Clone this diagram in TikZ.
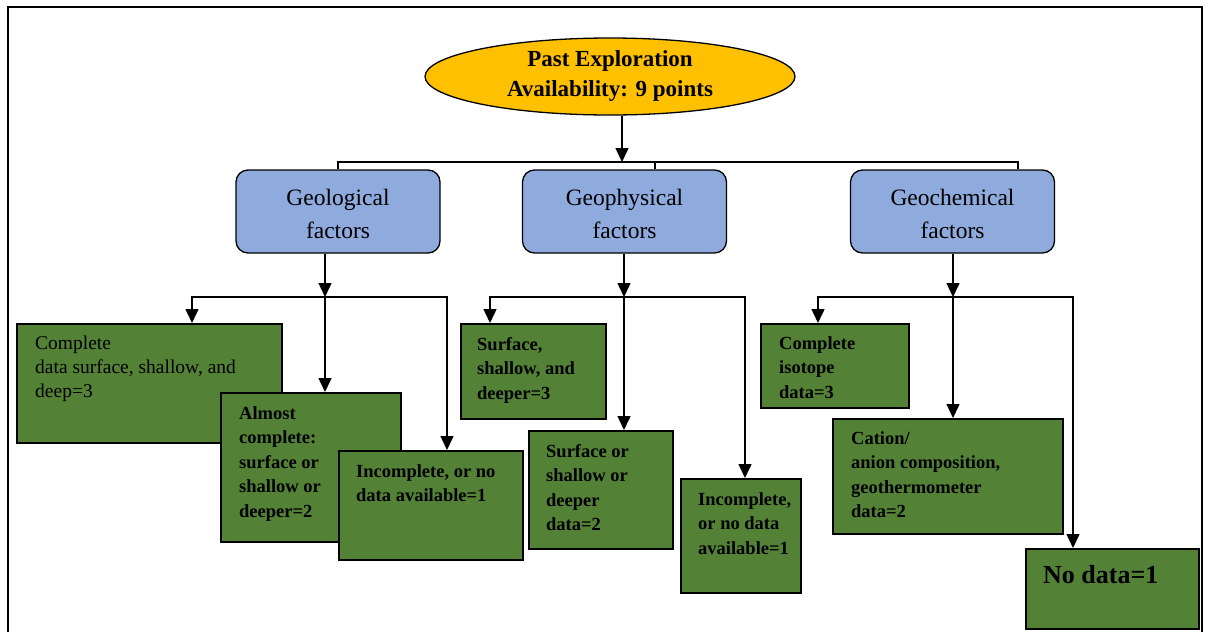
\documentclass[tikz,border=0pt]{standalone}
\usepackage{fontspec}
\setmainfont{Liberation Serif}
\usetikzlibrary{arrows.meta,shapes.geometric,calc}
\definecolor{gfill}{HTML}{538135}
\definecolor{bfill}{HTML}{8FAADC}
\definecolor{yfill}{HTML}{FFC000}
\newcommand{\topstrut}{\rule{0pt}{22pt}}
\begin{document}
\begin{tikzpicture}[x=1pt,y=-1pt,
  frameline/.style={line width=2pt},
  busline/.style={line width=1.5pt},
  conn/.style={line width=1.5pt,-{Triangle[length=14pt,width=13pt]}},
  topell/.style={ellipse,draw,line width=1.3pt,fill=yfill,inner sep=0pt,
    minimum width=370,minimum height=77,align=center,
    font=\bfseries\fontsize{23}{30}\selectfont},
  bbox/.style={draw,line width=1.3pt,fill=bfill,rounded corners=12pt,
    minimum width=204,minimum height=83,align=center,inner sep=0pt,
    font=\fontsize{23.5}{33}\selectfont},
  gbox/.style={draw,line width=1.5pt,fill=gfill,anchor=north west,inner sep=0pt},
  gtext/.style={anchor=north west,align=left,inner sep=0pt,
    font=\bfseries\fontsize{18.5}{24.5}\selectfont},
  gtextr/.style={gtext,font=\fontsize{19.5}{24}\selectfont}
]
\useasboundingbox (0,0) rectangle (1208,632);
% frame
\draw[frameline] (8,632) -- (8,7) -- (1202,7) -- (1202,632);

% top
\node[topell] (top) at (610,76.5) {Past Exploration\\Availability: 9 points};

% blue boxes
\node[bbox] (geo) at (338,211.5) {\topstrut Geological\\factors};
\node[bbox] (phy) at (624.5,211.5) {\topstrut Geophysical\\factors};
\node[bbox] (chem) at (952.5,211.5) {\topstrut Geochemical\\factors};

% first bus
\coordinate (b1) at (622,162);
\coordinate (b2) at (655,162);
\coordinate (b3) at (1018,162);
\draw[conn] (top.south -| b1) -- (b1);
\draw[busline] (geo.north) |- (b3) -- (chem.north -| b3);
\draw[busline] (b2) -- (phy.north -| b2);

% green boxes: geological
\node[gbox,minimum width=265,minimum height=119] (g1) at (16,323) {};
\node[gtextr] (g1t) at ($(g1.north west)+(19,13)$) {Complete\\data surface, shallow, and\\deep=3};
\node[gbox,minimum width=180,minimum height=149] (g2) at (220,392) {};
\node[gtext] (g2t) at ($(g2.north west)+(19,14)$) {Almost\\complete:\\surface or\\shallow or\\deeper=2};
\node[gbox,minimum width=184,minimum height=109] (g3) at (338,450) {};
\node[gtext] (g3t) at ($(g3.north west)+(18,14)$) {Incomplete, or no\\data available=1};

% geophysical
\node[gbox,minimum width=145,minimum height=95] (h1) at (460,323) {};
\node[gtext] (h1t) at ($(h1.north west)+(17,14)$) {Surface,\\shallow, and\\deeper=3};
\node[gbox,minimum width=144,minimum height=118] (h2) at (528,430) {};
\node[gtext] (h2t) at ($(h2.north west)+(18,14)$) {Surface or\\shallow or\\deeper\\data=2};
\node[gbox,minimum width=120,minimum height=114] (h3) at (680,478) {};
\node[gtext] (h3t) at ($(h3.north west)+(18,14)$) {Incomplete,\\or no data\\available=1};

% geochemical
\node[gbox,minimum width=148,minimum height=84] (c1) at (760,323) {};
\node[gtext] (c1t) at ($(c1.north west)+(19,13)$) {Complete\\isotope\\data=3};
\node[gbox,minimum width=230,minimum height=115] (c2) at (832,418) {};
\node[gtext] (c2t) at ($(c2.north west)+(19,13)$) {Cation/\\anion composition,\\geothermometer\\data=2};
\node[gbox,minimum width=173,minimum height=80] (c3) at (1025,548) {};
\node[gtext,font=\bfseries\fontsize{26}{30}\selectfont] (c3t) at ($(c3.north west)+(18,17)$) {No data=1};

% second level connectors
\coordinate (s1) at (325,297);
\coordinate (x11) at (192,0);
\coordinate (x13) at (447,0);
\draw[conn] (geo.south -| s1) -- (s1);
\draw[conn] (s1) -| (g1.north -| x11);
\draw[conn] (s1) -- (g2.north -| s1);
\draw[conn] (s1) -| (g3.north -| x13);

\coordinate (s2) at (624,297);
\coordinate (x21) at (490,0);
\coordinate (x23) at (745,0);
\draw[conn] (phy.south -| s2) -- (s2);
\draw[conn] (s2) -| (h1.north -| x21);
\draw[conn] (s2) -- (h2.north -| s2);
\draw[conn] (s2) -| (h3.north -| x23);

\coordinate (s3) at (953,297);
\coordinate (x31) at (818,0);
\coordinate (x33) at (1073,0);
\draw[conn] (chem.south -| s3) -- (s3);
\draw[conn] (s3) -| (c1.north -| x31);
\draw[conn] (s3) -- (c2.north -| s3);
\draw[conn] (s3) -| (c3.north -| x33);
\end{tikzpicture}
\end{document}
